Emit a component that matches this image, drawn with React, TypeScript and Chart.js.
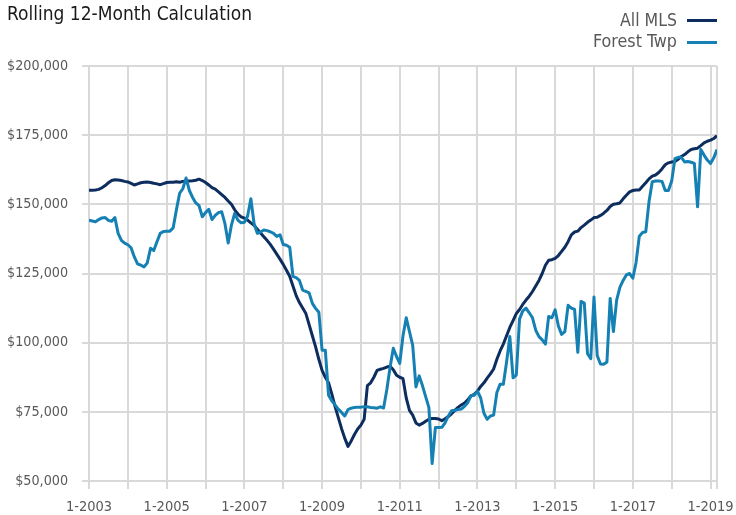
import React, { useEffect, useRef } from 'react';
import { Chart, registerables } from 'chart.js';

Chart.register(...registerables);

// Monthly points, 1-2003 .. 3-2019 (values in thousands of dollars)
const START_YEAR = 2003;
const TITLE = 'Rolling 12-Month Calculation';
const seriesNames = ['All MLS', 'Forest Twp'];
const seriesColors = ['#0c2d5e', '#1580b3'];

const allMLS = [
  155.1, 155.1, 155.2, 155.4, 156.0, 156.8, 157.8, 158.6, 158.9, 158.8, 158.6, 158.3,
  158.1, 157.6, 157.0, 157.4, 157.8, 158.0, 158.1, 157.9, 157.6, 157.4, 157.1, 157.5,
  157.9, 158.0, 158.0, 158.2, 158.0, 158.3, 158.4, 158.4, 158.5, 158.7, 159.1, 158.6,
  157.9, 157.0, 156.0, 155.5, 154.5, 153.5, 152.5, 151.2, 150.0, 148.0, 146.5, 145.5,
  145.0, 144.3, 143.3, 142.4, 141.0, 139.6, 138.3, 137.0, 135.5, 133.8, 132.0, 130.2,
  128.3, 126.2, 124.0, 120.5, 117.0, 114.5, 112.5, 110.5, 106.5, 102.5, 98.5, 94.0,
  90.0, 87.5, 85.5, 81.5, 77.0, 73.0, 69.0, 65.5, 62.5, 64.5, 66.8, 68.8,
  70.2, 72.3, 84.5, 85.5, 87.5, 90.0, 90.4, 90.7, 91.2, 91.5, 90.2, 88.2,
  87.5, 87.0, 80.0, 75.5, 73.8, 71.0, 70.2, 70.8, 71.6, 72.3, 72.6, 72.6,
  72.4, 71.8, 72.5, 73.3, 74.3, 75.5, 76.6, 77.5, 78.2, 79.3, 80.8, 81.3,
  82.5, 84.2, 85.5, 87.2, 88.7, 90.5, 94.0, 97.0, 99.5, 102.5, 105.5, 108.0,
  110.5, 112.0, 113.8, 115.4, 116.8, 118.5, 120.5, 122.5, 125.0, 128.0, 129.8, 130.0,
  130.5, 131.5, 133.0, 134.5, 136.5, 139.0, 140.0, 140.3, 141.6, 142.5, 143.5, 144.3,
  145.2, 145.3, 146.0, 146.8, 147.8, 149.2, 150.0, 150.2, 150.5, 152.0, 153.3, 154.5,
  155.0, 155.2, 155.2, 156.5, 157.8, 159.2, 160.2, 160.6, 161.5, 162.8, 164.3, 165.0,
  165.3, 165.5, 166.3, 167.3, 168.0, 169.0, 169.8, 170.1, 170.3, 171.2, 172.2, 172.8,
  173.2, 173.8, 174.8,
];

const forestTwp = [
  144.3, 144.0, 143.7, 144.5, 145.1, 145.2, 144.2, 143.9, 145.2, 139.5, 137.0, 136.0,
  135.4, 134.3, 131.0, 128.5, 128.0, 127.4, 128.8, 134.1, 133.3, 136.5, 139.5, 140.2,
  140.3, 140.3, 141.5, 148.0, 154.0, 155.7, 159.5, 155.0, 152.5, 150.5, 149.5, 145.5,
  147.0, 148.2, 144.5, 146.0, 147.0, 147.3, 143.0, 136.0, 142.5, 146.7, 144.3, 143.3,
  143.5, 145.8, 152.0, 143.0, 139.5, 140.0, 140.7, 140.5, 140.1, 139.5, 138.4, 139.0,
  135.5, 135.2, 134.5, 124.0, 123.5, 122.5, 119.0, 118.5, 118.0, 114.2, 112.4, 111.0,
  97.3, 97.3, 81.0, 79.0, 77.5, 76.0, 74.8, 73.5, 75.8, 76.3, 76.6, 76.7,
  76.7, 76.8, 76.8, 76.6, 76.5, 76.3, 76.8, 76.4, 83.0, 91.0, 98.0, 95.0,
  92.5, 102.5, 109.0, 104.0, 99.0, 84.0, 88.0, 84.5, 80.5, 76.5, 56.3, 69.3,
  69.3, 69.4, 71.0, 73.5, 75.4, 75.6, 75.8, 76.0, 77.0, 78.3, 80.8, 81.0,
  82.5, 80.0, 74.5, 72.3, 73.5, 73.8, 82.0, 85.0, 85.0, 93.0, 102.2, 87.3,
  88.3, 108.5, 111.5, 112.5, 110.8, 109.0, 104.5, 102.2, 101.0, 99.5, 109.5, 109.0,
  111.9, 106.0, 103.0, 104.0, 113.5, 112.5, 112.0, 96.5, 114.9, 114.3, 96.0, 94.2,
  116.5, 95.3, 92.3, 92.2, 93.0, 116.0, 104.0, 115.4, 120.0, 122.5, 124.5, 125.0,
  123.3, 129.0, 138.5, 139.8, 140.1, 151.0, 158.2, 158.4, 158.4, 158.3, 155.0, 155.0,
  158.4, 166.5, 167.0, 167.0, 165.3, 165.5, 165.2, 164.8, 149.1, 169.8, 167.8, 166.0,
  164.8, 166.8, 169.8,
];

const yTickValues = [50000, 75000, 100000, 125000, 150000, 175000, 200000];
const xLabelYears = [2003, 2005, 2007, 2009, 2011, 2013, 2015, 2017, 2019];

const FONT = "'DejaVu Sans Condensed', 'Liberation Sans Narrow', 'Arial Narrow', sans-serif";
const GRID = '#d9d9d9';
const TEXT = '#595959';

function drawFitted(ctx: CanvasRenderingContext2D, text: string, x: number, y: number, w: number, align: CanvasTextAlign, font: string, color: string) {
  ctx.save();
  ctx.font = font;
  ctx.fillStyle = color;
  ctx.textBaseline = 'alphabetic';
  const m = ctx.measureText(text).width;
  const s = m > 0 ? w / m : 1;
  ctx.translate(x, y);
  ctx.scale(s, 1);
  ctx.textAlign = align;
  ctx.fillText(text, 0, 0);
  ctx.restore();
}

const headerPlugin = {
  id: 'headerPlugin',
  afterDraw(chart: any) {
    const ctx = chart.ctx as CanvasRenderingContext2D;
    drawFitted(ctx, TITLE, 7, 20, 245, 'left', `20px ${FONT}`, '#1a1a1a');
    const rows = [
      { y: 26, ly: 20.5, w: 57 },
      { y: 47, ly: 42.5, w: 84 },
    ];
    rows.forEach((r, i) => {
      drawFitted(ctx, seriesNames[i], 677, r.y, r.w, 'right', `18px ${FONT}`, TEXT);
      ctx.save();
      ctx.strokeStyle = seriesColors[i];
      ctx.lineWidth = 3;
      ctx.beginPath();
      ctx.moveTo(687, r.ly);
      ctx.lineTo(717, r.ly);
      ctx.stroke();
      ctx.restore();
    });
  },
};

export default function App() {
  const ref = useRef<HTMLCanvasElement | null>(null);

  useEffect(() => {
    document.body.style.margin = '0';
    if (!ref.current) return;
    const lastIndex = allMLS.length - 1;
    const toPoints = (arr: number[]) => arr.map((v, i) => ({ x: i, y: v * 1000 }));

    const chart = new Chart(ref.current, {
      type: 'line',
      data: {
        datasets: [
          {
            label: seriesNames[1],
            data: toPoints(forestTwp),
            borderColor: seriesColors[1],
            borderWidth: 3,
            pointRadius: 0,
            tension: 0,
            borderJoinStyle: 'round',
          },
          {
            label: seriesNames[0],
            data: toPoints(allMLS),
            borderColor: seriesColors[0],
            borderWidth: 3,
            pointRadius: 0,
            tension: 0,
            borderJoinStyle: 'round',
          },
        ],
      },
      options: {
        animation: false,
        responsive: true,
        maintainAspectRatio: false,
        layout: { padding: { top: 66, right: 19, left: 0, bottom: 0 } },
        plugins: {
          legend: { display: false },
          title: { display: false },
          tooltip: { enabled: false },
        },
        scales: {
          x: {
            type: 'linear',
            min: 0,
            max: lastIndex,
            afterBuildTicks: (axis: any) => {
              const t: { value: number }[] = [];
              for (let v = 0; v <= lastIndex; v += 12) t.push({ value: v });
              if (t[t.length - 1].value !== lastIndex) t.push({ value: lastIndex });
              axis.ticks = t;
            },
            afterFit: (scale: any) => {
              scale.height = 34;
            },
            grid: { color: GRID, lineWidth: 2, tickLength: 8, drawTicks: true },
            border: { display: false },
            ticks: {
              autoSkip: false,
              maxRotation: 0,
              minRotation: 0,
              padding: 10,
              color: TEXT,
              font: { family: FONT, size: 14.5 },
              callback: (value: any) => {
                const v = Number(value);
                if (v % 12 !== 0) return '';
                const year = START_YEAR + v / 12;
                return xLabelYears.includes(year) ? `1-${year}` : '';
              },
            },
          },
          y: {
            min: yTickValues[0],
            max: yTickValues[yTickValues.length - 1],
            afterBuildTicks: (axis: any) => {
              axis.ticks = yTickValues.map((v) => ({ value: v }));
            },
            afterFit: (scale: any) => {
              scale.width = 89;
            },
            grid: { color: GRID, lineWidth: 2, tickLength: 7 },
            border: { display: false },
            ticks: {
              padding: 14,
              color: TEXT,
              font: { family: FONT, size: 14.2 },
              callback: (value: any) => '$' + Number(value).toLocaleString('en-US'),
            },
          },
        },
      },
      plugins: [headerPlugin],
    } as any);

    return () => chart.destroy();
  }, []);

  return (
    <div style={{ position: 'relative', width: 736, height: 515 }}>
      <canvas ref={ref} />
    </div>
  );
}
